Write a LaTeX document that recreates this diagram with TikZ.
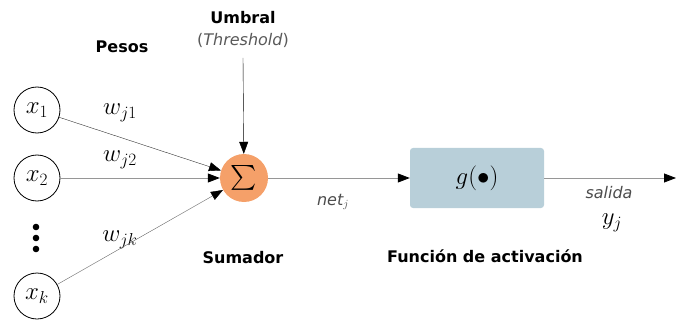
\documentclass[tikz,border=0pt]{standalone}
\usepackage{amsmath}
\usepackage{fontspec}
\setmainfont{DejaVu Sans}
\usetikzlibrary{arrows.meta}
\definecolor{sumorange}{RGB}{245,160,105}
\definecolor{actblue}{RGB}{184,207,217}
\definecolor{wireg}{RGB}{150,150,150}
\tikzset{
  inp/.style={draw,thick,circle,minimum size=46pt,inner sep=0pt,font=\fontsize{27}{27}\selectfont},
  lbl/.style={font=\fontsize{16}{18}\selectfont\bfseries},
  note/.style={font=\fontsize{16}{18}\selectfont\itshape,text=black!70,inner sep=0pt},
  wlbl/.style={font=\fontsize{27}{27}\selectfont,inner sep=0pt},
  tip/.style={-{Triangle[length=12pt,width=9pt,color=black]}}
}
\begin{document}
\begin{tikzpicture}[x=1pt,y=-1pt]
        \useasboundingbox (0,0) rectangle (676,323);
        % entradas
        \node[inp] (x1) at (37,110) {$x_1$};
        \node[inp] (x2) at (37,178) {$x_2$};
        \node[inp] (xk) at (37,296) {$x_k$};
        \fill (36,227) circle (3.3pt) (36,238) circle (3.3pt) (36,249) circle (3.3pt);
        % sumador y activacion
        \node[circle,fill=sumorange,minimum size=48pt,inner sep=0pt,font=\fontsize{24}{24}\selectfont] (sum) at (244,178) {$\textstyle\sum$};
        \node[fill=actblue,rounded corners=3pt,minimum width=134pt,minimum height=60pt,font=\fontsize{28}{28}\selectfont] (act) at (477,178) {$g(\bullet)$};
        \coordinate (thrend) at (243,58);
        \coordinate (out) at (676,178);
        % textos
        \node[lbl] (pesos) at (122,47) {Pesos};
        \node[lbl] (umbral) at (243,18) {Umbral};
        \node[font=\fontsize{16}{18}\selectfont,text=black!65,inner sep=0pt] (thr) at (243,40) {(\textit{Threshold})};
        \node[lbl] (sumador) at (243,258) {Sumador};
        \node[lbl] (funcion) at (485,256) {Función de activación};
        \node[wlbl] (w1) at (120,113) {$w_{j1}$};
        \node[wlbl] (w2) at (120,160) {$w_{j2}$};
        \node[wlbl] (wk) at (120,240) {$w_{jk}$};
        \node[note] (net) at (333,202) {net$_j$};
        \node[note] (sal) at (609,193) {salida};
        \node[wlbl] (yj) at (612,223) {$y_j$};
        % conexiones
        \draw[tip,black!80] (x1) -- (sum);
        \draw[tip,wireg,thick] (x2) -- (sum);
        \draw[tip,black!60] (xk) -- (sum);
        \draw[tip] (thrend) -- (sum);
        \draw[tip,wireg,thick] (sum) -- (act);
        \draw[tip,wireg,thick] (act) -- (out);
\end{tikzpicture}
\end{document}
